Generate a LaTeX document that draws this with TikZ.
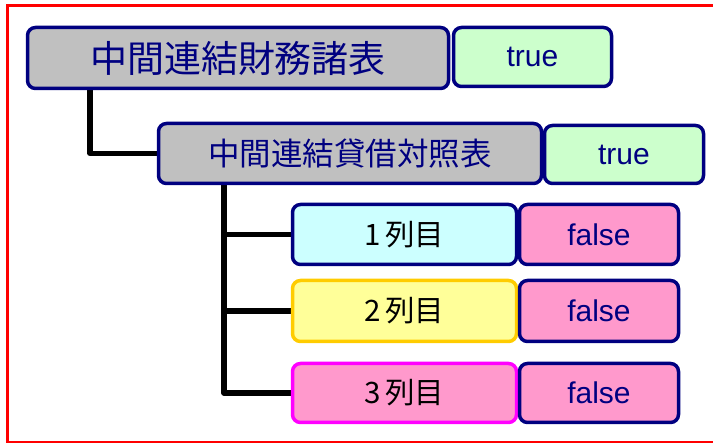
\documentclass[tikz,border=0pt]{standalone}
\usepackage{fontspec}
\usetikzlibrary{backgrounds}
\setmainfont{Liberation Sans}
\newfontfamily\cjk{Noto Sans CJK JP}
\definecolor{navy}{HTML}{000080}
\definecolor{gfill}{HTML}{C0C0C0}
\definecolor{tfill}{HTML}{CCFFCC}
\definecolor{cfill}{HTML}{CCFFFF}
\definecolor{yfill}{HTML}{FFFF99}
\definecolor{yline}{HTML}{FFCC00}
\definecolor{pfill}{HTML}{FF99CC}
\definecolor{pline}{HTML}{FF00FF}
\begin{document}
\begin{tikzpicture}[x=1pt,y=-1pt,
  box/.style={draw=navy,line width=3.5pt,rounded corners=8pt,inner sep=0pt,outer sep=0pt,text=navy},
  head/.style={box,fill=gfill,font=\cjk\fontsize{37}{37}\selectfont},
  sub/.style={box,fill=gfill,font=\cjk\fontsize{31.5}{31.5}\selectfont},
  flag/.style={box,minimum width=158pt,font=\fontsize{30}{30}\selectfont},
  rowlab/.style={box,text=black,minimum width=224pt,minimum height=60pt,font=\cjk\fontsize{29.5}{29.5}\selectfont},
  conn/.style={draw=black,line width=5.5pt,line join=round}]
\useasboundingbox (0,0) rectangle (713,443);
\begin{scope}
\clip (0,0) rectangle (713,443);
\draw[red,line width=3pt] (7.5,5.5) rectangle (730,442.5);
\end{scope}
% nodes
\node[head,minimum width=421pt,minimum height=61pt] (a) at (238,58) {中間連結財務諸表};
\node[flag,fill=tfill,minimum height=59pt] (at) at (532.5,57) {true};
\node[sub,minimum width=383pt,minimum height=60pt] (b) at (350,153.5) {中間連結貸借対照表};
\node[flag,fill=tfill,minimum width=159pt,minimum height=58pt] (bt) at (624,154.5) {true};
\node[rowlab,fill=cfill] (r1) at (404.5,234.5) {1\kern4pt列目};
\node[flag,fill=pfill,minimum width=159pt,minimum height=60pt] (f1) at (599,234.5) {false};
\node[rowlab,fill=yfill,draw=yline,minimum height=61pt] (r2) at (404.5,311) {2\kern4pt列目};
\node[flag,fill=pfill,minimum width=159pt,minimum height=61pt] (f2) at (599,311) {false};
\node[rowlab,fill=pfill,draw=pline,minimum height=59pt] (r3) at (404.5,393) {3\kern4pt列目};
\node[flag,fill=pfill,minimum width=159pt,minimum height=59pt] (f3) at (599,393) {false};
% connectors
\coordinate (va) at ([xshift=62.5pt]a.south west);
\coordinate (vb) at ([xshift=65.5pt]b.south west);
\begin{scope}[on background layer]
\draw[conn] (va) |- (b.west);
\draw[conn] (vb) |- (r3.west);
\draw[conn] (r1.west) -- (r1.west -| vb);
\draw[conn] (r2.west) -- (r2.west -| vb);
\end{scope}
\end{tikzpicture}
\end{document}
